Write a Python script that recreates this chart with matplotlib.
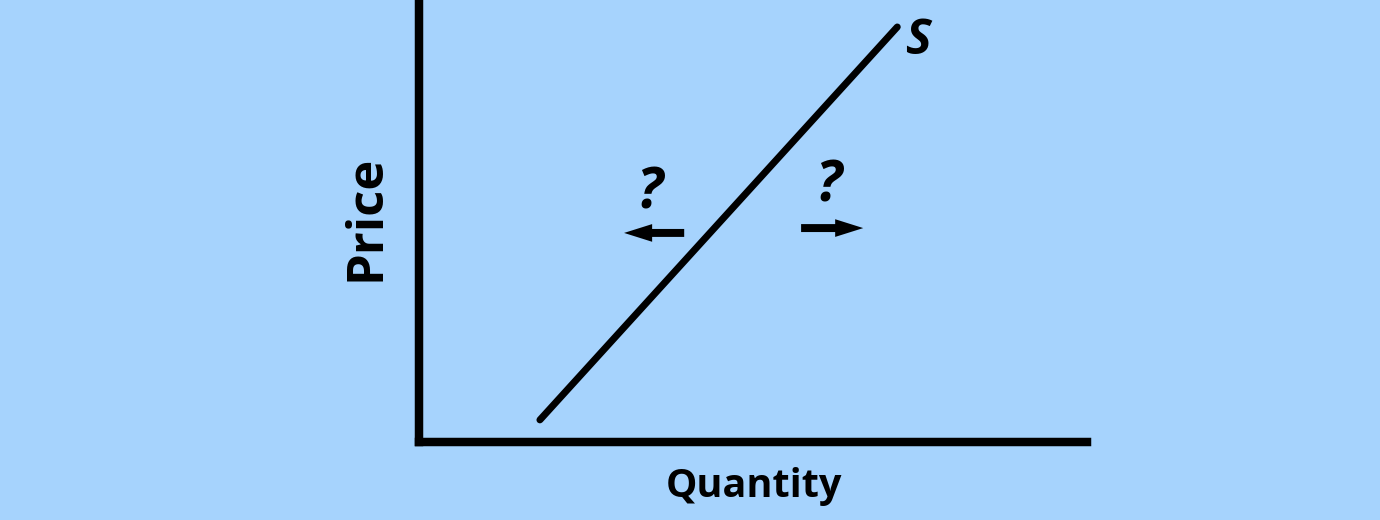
import matplotlib
matplotlib.use("Agg")
import matplotlib.pyplot as plt

# supply curve endpoints (quantity, price)
supply_q = [1.81, 7.16]
supply_p = [0.50, 9.39]

# shift arrows: (start x, end x, y)
left_arrow = (3.97, 3.07, 4.73)
right_arrow = (5.72, 6.65, 4.84)

# question marks
q_marks_x = [3.45, 6.13]
q_marks_y = [5.62, 5.77]

bg = '#a6d3fd'
fig = plt.figure(figsize=(13.8, 5.2), dpi=100, facecolor=bg)
ax = fig.add_axes([419 / 1380, 78 / 520, 668 / 1380, 442 / 520])
ax.set_facecolor(bg)
ax.set_xlim(0, 10)
ax.set_ylim(0, 10)

for side in ['top', 'right']:
    ax.spines[side].set_visible(False)
for side in ['left', 'bottom']:
    ax.spines[side].set_linewidth(6.1)
    ax.spines[side].set_color('black')
    ax.spines[side].set_capstyle('projecting')
ax.set_xticks([])
ax.set_yticks([])

font = 'Open Sans'

# supply line
ax.plot(supply_q, supply_p, color='black', lw=5, solid_capstyle='round', clip_on=False)
ax.text(7.47, 9.05, 'S', fontsize=35, fontweight='bold', fontstyle='italic',
        family=font, ha='center', va='center')

# arrows
for x0, x1, y in [left_arrow, right_arrow]:
    ax.arrow(x0, y, x1 - x0, 0, width=0.18, head_width=0.40, head_length=0.42,
             length_includes_head=True, color='black', lw=0)

for x, y in zip(q_marks_x, q_marks_y):
    ax.text(x, y, '?', fontsize=41, fontweight='bold', fontstyle='italic',
            family=font, ha='center', va='center')

ax.set_xlabel('Quantity', fontsize=28.5, fontweight='bold', family=font, va='center')
ax.xaxis.set_label_coords(0.5015, -0.1)
ax.set_ylabel('Price', fontsize=36.5, fontweight='bold', family=font, va='center')
ax.yaxis.set_label_coords(-0.0793, 0.507)

fig.savefig('out.png', dpi=100, facecolor=bg)
